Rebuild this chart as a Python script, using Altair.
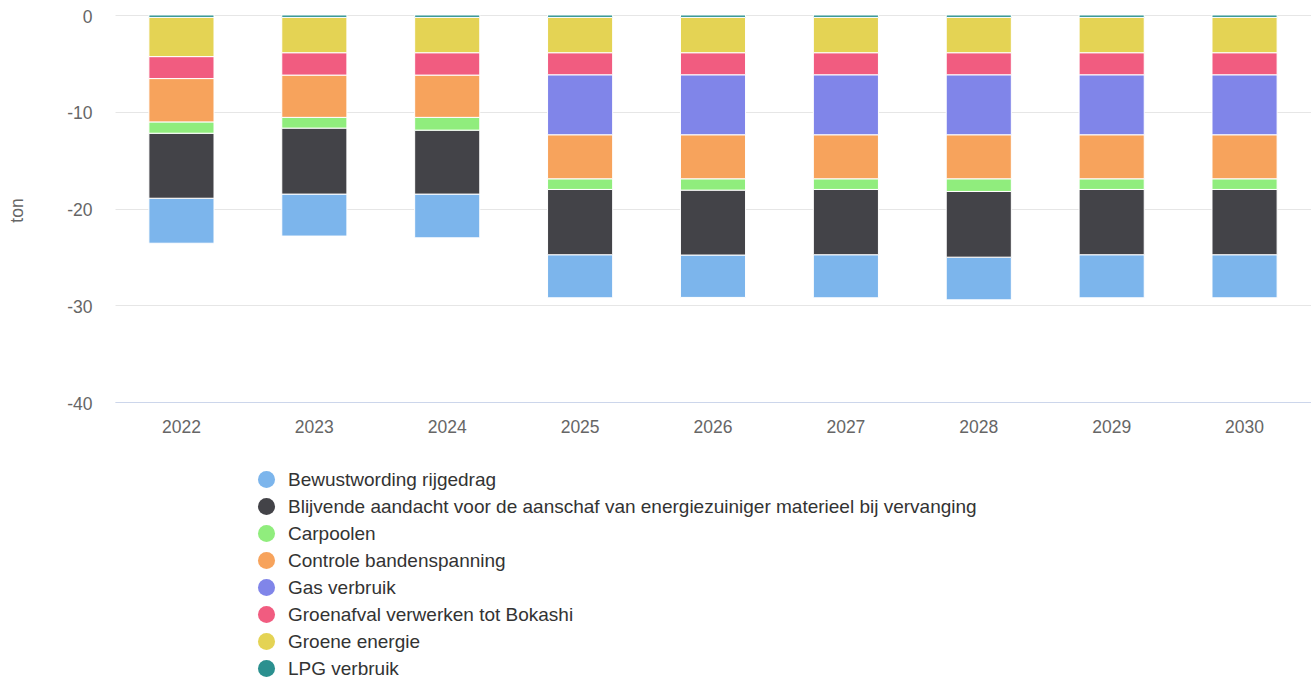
import altair as alt
import pandas as pd

years = ["2022", "2023", "2024", "2025", "2026", "2027", "2028", "2029", "2030"]

series_names = [
    "Bewustwording rijgedrag",
    "Blijvende aandacht voor de aanschaf van energiezuiniger materieel bij vervanging",
    "Carpoolen",
    "Controle bandenspanning",
    "Gas verbruik",
    "Groenafval verwerken tot Bokashi",
    "Groene energie",
    "LPG verbruik",
]
colors = ["#7cb5ec", "#434348", "#90ed7d", "#f7a35c", "#8085e9", "#f15c80", "#e4d354", "#2b908f"]

bewustwording = [-4.65, -4.34, -4.52, -4.45, -4.38, -4.45, -4.41, -4.45, -4.45]
blijvende = [-6.72, -6.82, -6.61, -6.75, -6.71, -6.75, -6.79, -6.75, -6.75]
carpoolen = [-1.17, -1.11, -1.32, -1.10, -1.17, -1.10, -1.31, -1.10, -1.10]
controle = [-4.48, -4.37, -4.37, -4.55, -4.55, -4.55, -4.55, -4.55, -4.55]
gas = [None, None, None, -6.2, -6.2, -6.2, -6.2, -6.2, -6.2]
groenafval = [-2.27, -2.31, -2.31, -2.28, -2.28, -2.28, -2.28, -2.28, -2.28]
groene_energie = [-4.05, -3.65, -3.65, -3.65, -3.65, -3.65, -3.65, -3.65, -3.65]
lpg = [-0.25, -0.25, -0.25, -0.25, -0.25, -0.25, -0.25, -0.25, -0.25]

series_values = [bewustwording, blijvende, carpoolen, controle, gas, groenafval, groene_energie, lpg]

rows = []
for si, (name, vals) in enumerate(zip(series_names, series_values)):
    for y, v in zip(years, vals):
        if v is None:
            continue
        # stack order: LPG closest to zero, Bewustwording outermost
        rows.append({"jaar": y, "serie": name, "waarde": v, "volgorde": len(series_names) - si})
df = pd.DataFrame(rows)

FONT = "Liberation Sans"

chart = (
    alt.Chart(df)
    .mark_bar(stroke="white", strokeWidth=1)
    .encode(
        x=alt.X(
            "jaar:N",
            title=None,
            sort=years,
            scale=alt.Scale(paddingInner=0.51, paddingOuter=0.255),
            axis=alt.Axis(
                labelAngle=0,
                ticks=False,
                labelPadding=16,
                labelFontSize=17.5,
                labelColor="#666666",
                labelFont=FONT,
                domainColor="#ccd6eb",
                domainWidth=1,
                grid=False,
            ),
        ),
        y=alt.Y(
            "waarde:Q",
            title="ton",
            stack="zero",
            scale=alt.Scale(domain=[-40, 0], nice=False),
            axis=alt.Axis(
                values=[0, -10, -20, -30, -40],
                labelExpr="toString(datum.value)",
                ticks=False,
                domain=False,
                labelPadding=23,
                labelOffset=2,
                labelFontSize=17.5,
                labelColor="#666666",
                labelFont=FONT,
                gridColor="#e6e6e6",
                gridWidth=1,
                titleFont=FONT,
                titleFontSize=17.5,
                titleFontWeight="normal",
                titleColor="#666666",
                titleAngle=-90,
                titleAlign="center",
                titleBaseline="middle",
                titleX=-98,
                titleY=195,
            ),
        ),
        color=alt.Color(
            "serie:N",
            scale=alt.Scale(domain=series_names, range=colors),
            legend=alt.Legend(
                title=None,
                orient="none",
                legendX=142,
                legendY=455,
                symbolType="circle",
                symbolSize=290,
                symbolStrokeWidth=0,
                symbolOpacity=1,
                labelFont=FONT,
                labelFontSize=19,
                labelColor="#333333",
                labelOffset=12,
                rowPadding=7,
                labelLimit=1000,
            ),
        ),
        order=alt.Order("volgorde:Q", sort="ascending"),
    )
    .properties(
        width=1196,
        height=387,
        background="white",
        autosize=alt.AutoSizeParams(type="none"),
        padding={"left": 115, "top": 15, "right": 0, "bottom": 279},
    )
    .configure_view(strokeWidth=0, stroke="transparent")
)

chart.save("out.html", embed_options={"renderer": "svg", "actions": False})
